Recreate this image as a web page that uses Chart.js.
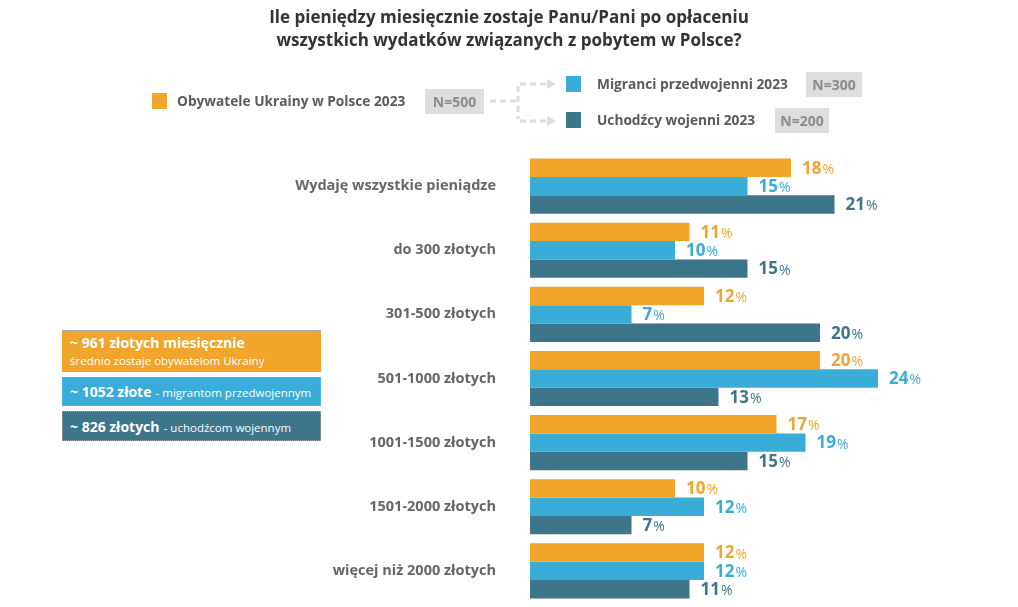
<!DOCTYPE html>
<html><head><meta charset="utf-8">
<script src="https://cdn.jsdelivr.net/npm/chart.js@4/dist/chart.umd.min.js"></script>
<style>
html,body{margin:0;padding:0;background:#fff;}
#wrap{position:relative;width:1018px;height:607px;font-family:"Open Sans",sans-serif;overflow:hidden;}
canvas{position:absolute;left:0;top:0;width:1018px;height:607px;}
.t{position:absolute;white-space:nowrap;}
#title{left:0;width:1018px;top:5px;text-align:center;font-weight:bold;font-size:17px;line-height:23px;color:#333;}
.sq{position:absolute;width:15px;height:16px;}
.lg{position:absolute;font-weight:bold;font-size:13.7px;color:#5a5a5a;line-height:16px;}
.nb{position:absolute;background:#dcdedf;color:#8a8a8a;font-weight:bold;font-size:14px;text-align:center;}
.ib{position:absolute;left:62px;width:259px;border:1px dotted #9aa;color:#fff;box-sizing:border-box;padding-left:7px;}
.ib b{font-size:14px;}
.ib span{font-size:11.5px;}
</style></head>
<body><div id="wrap">
<canvas id="c" width="1018" height="607"></canvas>
<div id="title" class="t">Ile pieniędzy miesięcznie zostaje Panu/Pani po opłaceniu<br>wszystkich wydatków związanych z pobytem w Polsce?</div>

<div class="sq" style="left:152px;top:93px;background:#F1A52A"></div>
<div class="lg" style="left:177px;top:93px">Obywatele Ukrainy w Polsce 2023</div>
<div class="nb" style="left:425px;top:89px;width:59px;height:25px;line-height:25px">N=500</div>

<svg style="position:absolute;left:0;top:0" width="1018" height="607">
<g stroke="#dcdcdc" stroke-width="3" fill="none" stroke-dasharray="6,4">
<path d="M490 101 H518"/>
<path d="M518 86 V119"/>
<path d="M520 84 H547"/>
<path d="M520 121 H547"/>
</g>
<g fill="#dcdcdc">
<path d="M547 79 L556 84 L547 89 Z"/>
<path d="M547 116 L556 121 L547 126 Z"/>
</g>
</svg>

<div class="sq" style="left:566px;top:76px;background:#39ACD7"></div>
<div class="lg" style="left:597px;top:76px">Migranci przedwojenni 2023</div>
<div class="nb" style="left:806px;top:72px;width:56px;height:25px;line-height:25px">N=300</div>

<div class="sq" style="left:566px;top:112px;background:#3D768A"></div>
<div class="lg" style="left:597px;top:112px">Uchodźcy wojenni 2023</div>
<div class="nb" style="left:775px;top:108px;width:54px;height:25px;line-height:25px">N=200</div>

<div class="ib" style="top:330px;height:42px;background:#F1A52A;padding-top:3px;line-height:16px"><b>~ 961 złotych miesięcznie</b><br><span>średnio zostaje obywatelom Ukrainy</span></div>
<div class="ib" style="top:377px;height:29px;background:#39ACD7;line-height:27px"><b>~ 1052 złote</b> <span>- migrantom przedwojennym</span></div>
<div class="ib" style="top:411px;height:30px;background:#3D768A;line-height:28px"><b>~ 826 złotych</b> <span>- uchodźcom wojennym</span></div>
</div>
<script>
const categories = ["Wydaję wszystkie pieniądze","do 300 złotych","301-500 złotych","501-1000 złotych","1001-1500 złotych","1501-2000 złotych","więcej niż 2000 złotych"];
const seriesNames = ["Obywatele Ukrainy w Polsce 2023","Migranci przedwojenni 2023","Uchodźcy wojenni 2023"];
const obywatele = [18,11,12,20,17,10,12];
const migranci = [15,10,7,24,19,12,12];
const uchodzcy = [21,15,20,13,15,7,11];
const colors = ["#F1A52A","#39ACD7","#3D768A"];

const valueLabels = {
  id:'valueLabels',
  afterDatasetsDraw(chart){
    const ctx = chart.ctx;
    chart.data.datasets.forEach((ds,i)=>{
      const meta = chart.getDatasetMeta(i);
      meta.data.forEach((el,j)=>{
        const v = ds.data[j];
        ctx.save();
        ctx.fillStyle = ds.backgroundColor;
        ctx.textBaseline = 'middle';
        ctx.textAlign = 'left';
        ctx.font = 'bold 17px "Open Sans"';
        const x = el.x + 11, y = el.y + 1;
        ctx.fillText(String(v), x, y);
        const w = ctx.measureText(String(v)).width;
        ctx.font = '14px "Open Sans"';
        ctx.fillText('%', x + w + 1, y + 1);
        ctx.restore();
      });
    });
  }
};

new Chart(document.getElementById('c'),{
  type:'bar',
  data:{labels:categories,datasets:[
    {label:seriesNames[0],data:obywatele,backgroundColor:colors[0]},
    {label:seriesNames[1],data:migranci,backgroundColor:colors[1]},
    {label:seriesNames[2],data:uchodzcy,backgroundColor:colors[2]}
  ]},
  options:{
    indexAxis:'y',responsive:false,maintainAspectRatio:false,animation:false,devicePixelRatio:1,
    layout:{padding:{left:0,right:53,top:154,bottom:4}},
    datasets:{bar:{categoryPercentage:0.86,barPercentage:1,borderWidth:0}},
    plugins:{legend:{display:false},tooltip:{enabled:false},title:{display:false}},
    scales:{
      x:{display:false,min:0,max:30},
      y:{grid:{display:false,drawTicks:false},border:{display:false},
         ticks:{padding:34,color:'#666',font:{family:'"Open Sans"',size:14.5,weight:'bold'}},
         afterFit(s){s.width=530; s.paddingTop=0; s.paddingBottom=0;}}
    }
  },
  plugins:[valueLabels]
});
</script>
</body></html>
